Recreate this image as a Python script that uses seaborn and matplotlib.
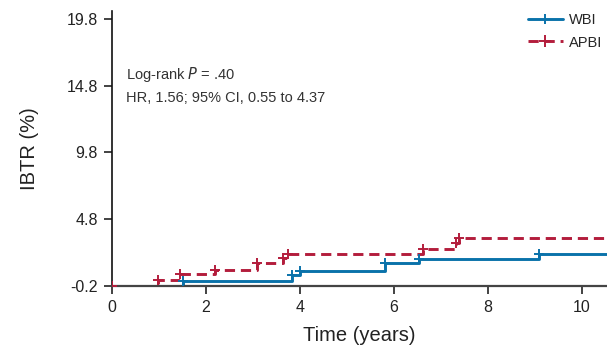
import numpy as np
import pandas as pd
import matplotlib
matplotlib.use("Agg")
import matplotlib.pyplot as plt
from matplotlib.lines import Line2D
import seaborn as sns

# Step curves: event times (years) and cumulative IBTR (%) after each step
wbi_times = [0.0, 1.50, 3.82, 4.00, 5.80, 6.53, 9.09, 10.53]
wbi_ibtr = [-0.2, 0.17, 0.62, 0.95, 1.50, 1.82, 2.20, 2.20]
apbi_times = [0.0, 0.98, 1.45, 2.19, 3.08, 3.64, 3.75, 6.62, 7.32, 7.38, 10.53]
apbi_ibtr = [-0.2, 0.23, 0.68, 1.00, 1.50, 1.90, 2.20, 2.57, 3.00, 3.42, 3.42]

# Censoring marks (years)
wbi_cens = [1.50, 3.82, 4.00, 5.80, 6.53, 9.09]
apbi_cens = [0.0, 0.98, 1.45, 2.19, 3.08, 3.64, 3.75, 6.62, 7.32, 7.38]

y_ticks = [-0.2, 4.8, 9.8, 14.8, 19.8]
x_ticks = [0, 2, 4, 6, 8, 10]

blue = "#0a72aa"
red = "#b31d3c"

sns.set_theme(style="white")
plt.rcParams["font.family"] = ["Liberation Sans", "DejaVu Sans"]

fig = plt.figure(figsize=(6.07, 3.5), dpi=100)
ax = fig.add_axes([0.1845, 0.183, 0.8155, 0.786])

wbi = pd.DataFrame({"t": wbi_times, "v": wbi_ibtr})
apbi = pd.DataFrame({"t": apbi_times, "v": apbi_ibtr})

sns.lineplot(data=wbi, x="t", y="v", ax=ax, color=blue, lw=2.1,
             drawstyle="steps-post", estimator=None, sort=False)
sns.lineplot(data=apbi, x="t", y="v", ax=ax, color=red, lw=2.1,
             drawstyle="steps-post", estimator=None, sort=False,
             dashes=False)
ax.lines[-1].set_dashes([3.5, 2.0])


def level_at(times, vals, t):
    i = np.searchsorted(np.asarray(times), t, side="right") - 1
    return vals[i]


wbi_c = pd.DataFrame({"t": wbi_cens,
                      "v": [level_at(wbi_times, wbi_ibtr, t) for t in wbi_cens]})
apbi_c = pd.DataFrame({"t": apbi_cens,
                       "v": [level_at(apbi_times, apbi_ibtr, t) for t in apbi_cens]})
sns.scatterplot(data=wbi_c, x="t", y="v", ax=ax, marker="+", s=60,
                color=blue, linewidth=1.4, zorder=4)
sns.scatterplot(data=apbi_c, x="t", y="v", ax=ax, marker="+", s=60,
                color=red, linewidth=1.4, zorder=4)

ax.set_xlim(0, 10.53)
ax.set_ylim(-0.2, 20.4)
ax.set_xticks(x_ticks)
ax.set_yticks(y_ticks)
ax.set_yticklabels([f"{v:.1f}" for v in y_ticks])

for side in ["top", "right"]:
    ax.spines[side].set_visible(False)
ax.spines["left"].set_color("#111111")
ax.spines["left"].set_linewidth(1.2)
ax.spines["bottom"].set_color("#444444")
ax.spines["bottom"].set_linewidth(1.6)
ax.tick_params(axis="both", direction="out", length=6, width=1.2,
               colors="#222222", labelsize=11.5, pad=4,
               bottom=True, left=True)

ax.set_xlabel("Time (years)", fontsize=14.5, color="#222222", labelpad=8)
ax.set_ylabel("IBTR (%)", fontsize=14.5, color="#222222", labelpad=20)

ax.text(0.3, 15.6, r"Log-rank $\it{P}$ = .40", fontsize=10.5,
        color="#333333", va="center")
ax.text(0.3, 13.87, "HR, 1.56; 95% CI, 0.55 to 4.37", fontsize=10.5,
        color="#333333", va="center")

handles = [
    Line2D([0], [0], color=blue, lw=2.1, marker="|", markersize=7,
           markeredgewidth=1.4),
    Line2D([0], [0], color=red, lw=2.1, ls=(0, (3.5, 2.0)), marker="+",
           markersize=8, markeredgewidth=1.4),
]
ax.legend(handles, ["WBI", "APBI"], loc="upper right",
          bbox_to_anchor=(1.012, 1.03), frameon=False, fontsize=10.5,
          handlelength=2.4, handletextpad=0.45, labelspacing=0.6,
          numpoints=1, borderaxespad=0.3)

fig.savefig("out.png", dpi=100)
